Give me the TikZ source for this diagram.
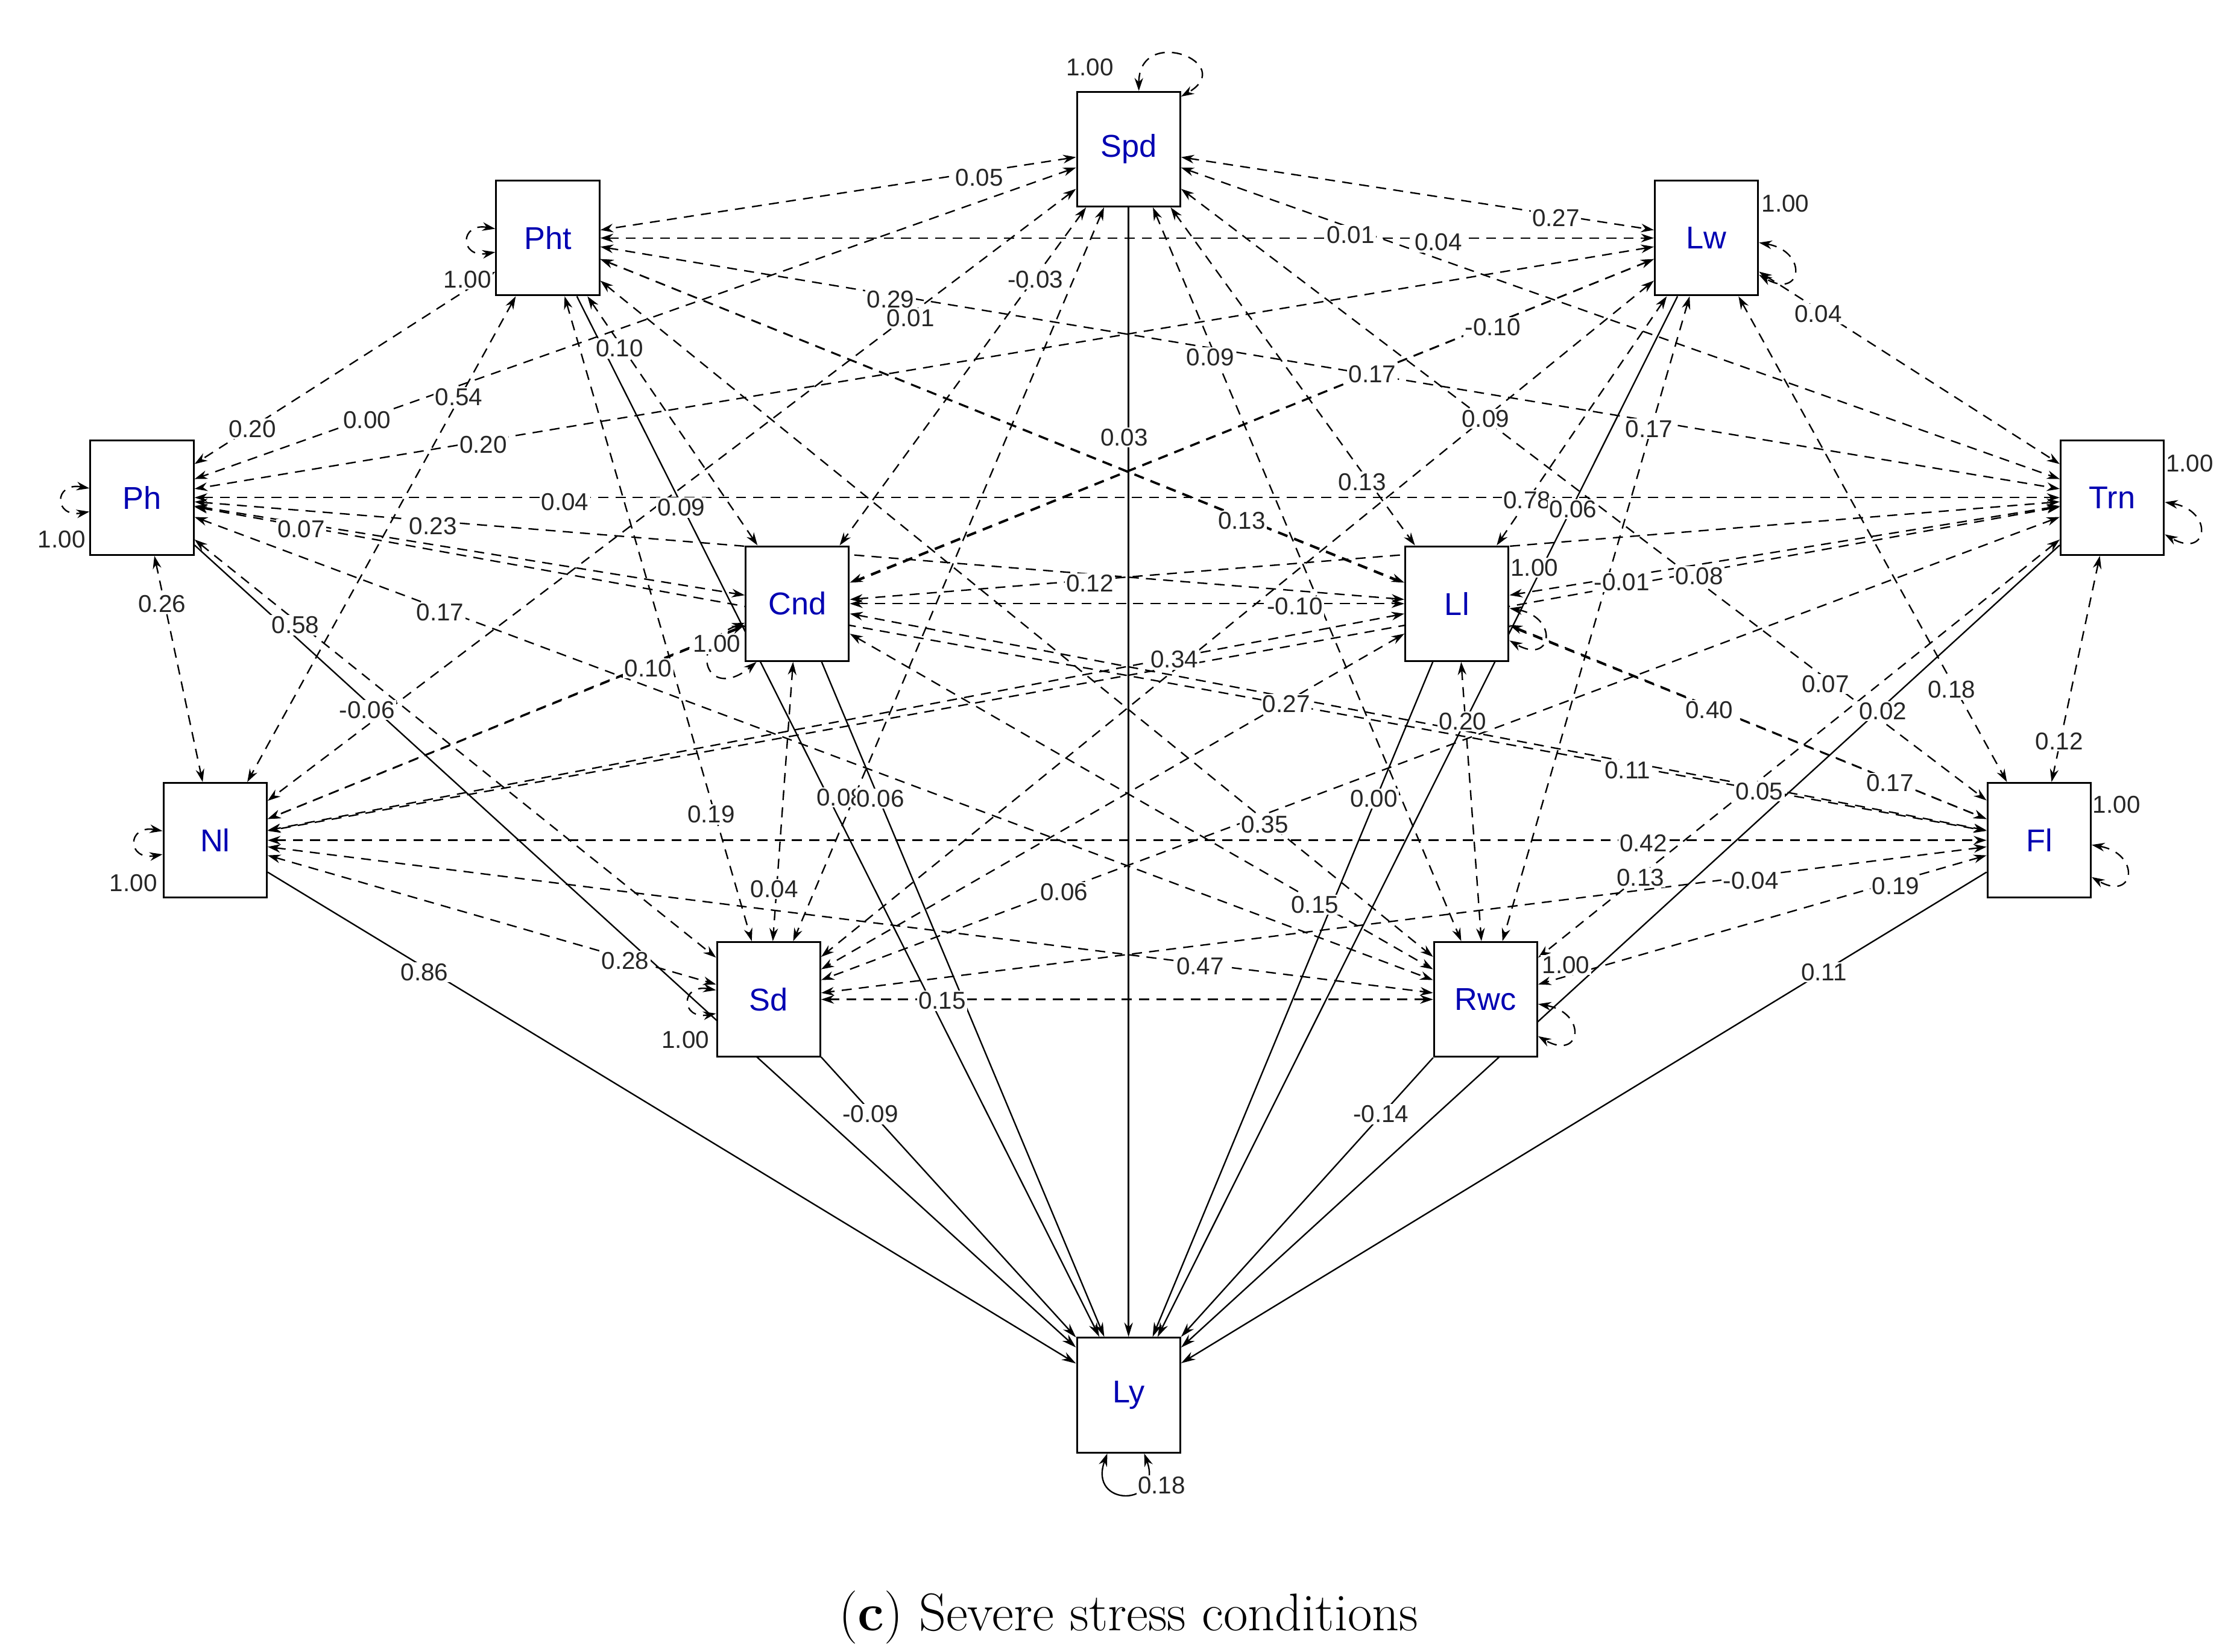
\documentclass[tikz,border=0pt]{standalone}
\usepackage{fontspec}
\newfontfamily\labfont{Liberation Sans}
\usetikzlibrary{arrows.meta}
\pgfdeclarelayer{bg}
\pgfsetlayers{bg,main}
\begin{document}
\begin{tikzpicture}[x=1pt,y=-1pt,
  box/.style={draw,fill=white,line width=1.3pt,minimum width=72pt,minimum height=80pt,inner sep=0pt,font=\labfont\fontsize{22}{24}\selectfont,text=blue!70!black},
  cov/.style={dashed,dash pattern=on 7pt off 5pt,line width=1pt,{Stealth[length=9pt,width=6pt]}-{Stealth[length=9pt,width=6pt]}},
  path/.style={line width=1pt,-{Stealth[length=10pt,width=6pt]}},
  lp/.style={fill=white,inner sep=1pt,font=\labfont\fontsize{17}{18}\selectfont,text=black!85},
  loop/.style={cov,looseness=4}]
\useasboundingbox (0,0) rectangle (1560,1152);
\node[box] (Spd) at (787,104) {Spd};
\node[box] (Pht) at (382,166) {Pht};
\node[box] (Lw) at (1190,166) {Lw};
\node[box] (Ph) at (99,347) {Ph};
\node[box] (Trn) at (1473,347) {Trn};
\node[box] (Cnd) at (556,421) {Cnd};
\node[box] (Ll) at (1016,421) {Ll};
\node[box] (Nl) at (150,586) {Nl};
\node[box] (Fl) at (1422,586) {Fl};
\node[box] (Sd) at (536,697) {Sd};
\node[box] (Rwc) at (1036,697) {Rwc};
\node[box] (Ly) at (787,973) {Ly};
\begin{pgfonlayer}{bg}
\foreach \a/\b in {Spd/Pht,Spd/Lw,Spd/Ph,Spd/Trn,Spd/Cnd,Spd/Ll,Spd/Nl,Spd/Fl,Spd/Sd,Spd/Rwc,
 Pht/Lw,Pht/Ph,Pht/Trn,Pht/Cnd,Pht/Ll,Pht/Nl,Pht/Fl,Pht/Sd,Pht/Rwc,
 Lw/Ph,Lw/Trn,Lw/Cnd,Lw/Ll,Lw/Nl,Lw/Fl,Lw/Sd,Lw/Rwc,
 Ph/Trn,Ph/Cnd,Ph/Ll,Ph/Nl,Ph/Fl,Ph/Sd,Ph/Rwc,
 Trn/Cnd,Trn/Ll,Trn/Nl,Trn/Fl,Trn/Sd,Trn/Rwc,
 Cnd/Ll,Cnd/Nl,Cnd/Fl,Cnd/Sd,Cnd/Rwc,
 Ll/Nl,Ll/Fl,Ll/Sd,Ll/Rwc,
 Nl/Fl,Nl/Sd,Nl/Rwc,
 Fl/Sd,Fl/Rwc,
 Sd/Rwc}
 \draw[cov] (\a) -- (\b);
\foreach \a in {Spd,Pht,Lw,Ph,Trn,Cnd,Ll,Nl,Fl,Sd,Rwc}
 \draw[path] (\a) -- (Ly);
\end{pgfonlayer}
% variance loops
\draw[loop] (Spd.80) to[out=90,in=30] (Spd.45);
\draw[loop] (Pht.170) to[out=170,in=190] (Pht.195);
\draw[loop] (Lw.-5) to[out=-10,in=-30] (Lw.-35);
\draw[loop] (Ph.170) to[out=170,in=190] (Ph.195);
\draw[loop] (Trn.-5) to[out=-10,in=-30] (Trn.-35);
\draw[loop] (Ll.-5) to[out=-10,in=-30] (Ll.-35);
\draw[loop] (Cnd.200) to[out=200,in=220] (Cnd.235);
\draw[loop] (Nl.170) to[out=170,in=190] (Nl.195);
\draw[loop] (Fl.-5) to[out=-10,in=-30] (Fl.-35);
\draw[loop] (Sd.170) to[out=170,in=190] (Sd.195);
\draw[loop] (Rwc.-5) to[out=-10,in=-30] (Rwc.-35);
\draw[line width=1pt,{Stealth[length=9pt,width=6pt]}-{Stealth[length=9pt,width=6pt]},looseness=4] (Ly.-110) to[out=-110,in=-70] (Ly.-75);
% labels
\foreach \x/\y/\t in {760/47/1.00,683/124/0.05,1085/152/0.27,942/164/0.01,1003/169/0.04,1245/142/1.00,
 326/195/1.00,621/209/0.29,635/222/0.01,722/195/-0.03,1268/219/0.04,432/243/0.10,844/249/0.09,957/261/0.17,
 1041/228/-0.10,176/299/0.20,256/293/0.00,320/277/0.54,337/310/0.20,784/305/0.03,1036/292/0.09,1150/299/0.17,
 1527/323/1.00,43/376/1.00,394/350/0.04,475/354/0.09,950/336/0.13,1065/349/0.78,1097/355/0.06,
 210/369/0.07,302/367/0.23,866/363/0.13,1070/396/1.00,1131/406/-0.01,1185/402/0.08,760/407/0.12,903/423/-0.10,
 113/421/0.26,206/436/0.58,307/427/0.17,500/449/1.00,819/460/0.34,452/466/0.10,897/491/0.27,1020/503/0.20,
 1192/495/0.40,1273/477/0.07,1313/496/0.02,1361/481/0.18,256/495/-0.06,1436/517/0.12,1135/537/0.11,
 1227/552/0.05,1318/546/0.17,496/568/0.19,586/556/0.08,614/557/0.06,882/575/0.35,958/557/0.00,1476/561/1.00,
 1146/588/0.42,93/616/1.00,540/620/0.04,742/622/0.06,1144/612/0.13,1221/614/-0.04,1322/618/0.19,917/631/0.15,
 296/678/0.86,436/670/0.28,837/674/0.47,1092/673/1.00,657/698/0.15,478/725/1.00,1272/678/0.11,
 607/777/-0.09,963/777/-0.14,810/1036/0.18}
 \node[lp] (l\x\y) at (\x,\y) {\t};
\node[font=\fontsize{37}{40}\selectfont] (cap) at (787,1128) {(\textbf{c}) Severe stress conditions};
\end{tikzpicture}
\end{document}
